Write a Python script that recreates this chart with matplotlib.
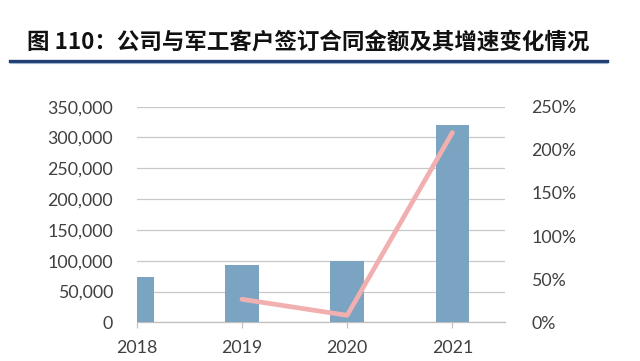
import matplotlib
matplotlib.use("Agg")
import matplotlib.pyplot as plt
from matplotlib.ticker import FuncFormatter
from matplotlib.lines import Line2D

plt.rcParams['font.family'] = ['Lato', 'DejaVu Sans']

years = ['2018', '2019', '2020', '2021']
amounts = [73000, 92500, 100000, 320000]
growth_years = ['2019', '2020', '2021']
growth = [26.7, 8.1, 220.0]

title = '图 110：公司与军工客户签订合同金额及其增速变化情况'

W, H = 640, 361
fig = plt.figure(figsize=(W / 100, H / 100), dpi=100)
fig.patch.set_facecolor('white')

ax = fig.add_axes([136.7 / W, 1 - 322.3 / H, (505 - 136.7) / W, (322.3 - 106.7) / H])
x = list(range(len(years)))
ax.bar(x, amounts, width=0.32, color='#7BA3C2', zorder=3)
ax.set_xlim(0, 3.5)
ax.set_ylim(0, 350000)
ax.set_yticks(range(0, 350001, 50000))
ax.yaxis.set_major_formatter(FuncFormatter(lambda v, p: f'{int(v):,}'))
ax.set_xticks(x)
ax.set_xticklabels(years)
ax.grid(axis='y', color='#C8C8C8', linewidth=0.9, zorder=0)
for s in ['left', 'right', 'top']:
    ax.spines[s].set_visible(False)
ax.spines['bottom'].set_color('#BFBFBF')
ax.spines['bottom'].set_linewidth(0.9)
ax.tick_params(axis='y', length=0, pad=17, labelsize=12.8, labelcolor='#404040')
ax.tick_params(axis='x', length=4, color='#BFBFBF', pad=9, labelsize=12.8, labelcolor='#404040')
ax.set_axisbelow(True)

ax2 = ax.twinx()
gx = [years.index(g) for g in growth_years]
ax2.plot(gx, growth, color='#F2AFAF', linewidth=3.4, solid_capstyle='round', zorder=4)
ax2.set_ylim(0, 250)
ax2.set_yticks(range(0, 251, 50))
ax2.yaxis.set_major_formatter(FuncFormatter(lambda v, p: f'{int(v)}%'))
for s in ['left', 'right', 'top', 'bottom']:
    ax2.spines[s].set_visible(False)
ax2.tick_params(axis='y', length=0, pad=19, labelsize=12.8, labelcolor='#404040')

fig.text(27 / W, 1 - 42 / H, title, fontsize=16.2, fontweight='bold',
         family=['Noto Sans CJK SC', 'DejaVu Sans'], va='center', ha='left', color='#111111')
fig.add_artist(Line2D([10 / W, 607 / W], [1 - 61 / H, 1 - 61 / H], transform=fig.transFigure,
                      color='#1F3F73', linewidth=2.4))
fig.add_artist(Line2D([10 / W, 607 / W], [1 - 63 / H, 1 - 63 / H], transform=fig.transFigure,
                      color='#9DB3D0', linewidth=0.8))

fig.savefig('out.png', dpi=100, facecolor='white')
